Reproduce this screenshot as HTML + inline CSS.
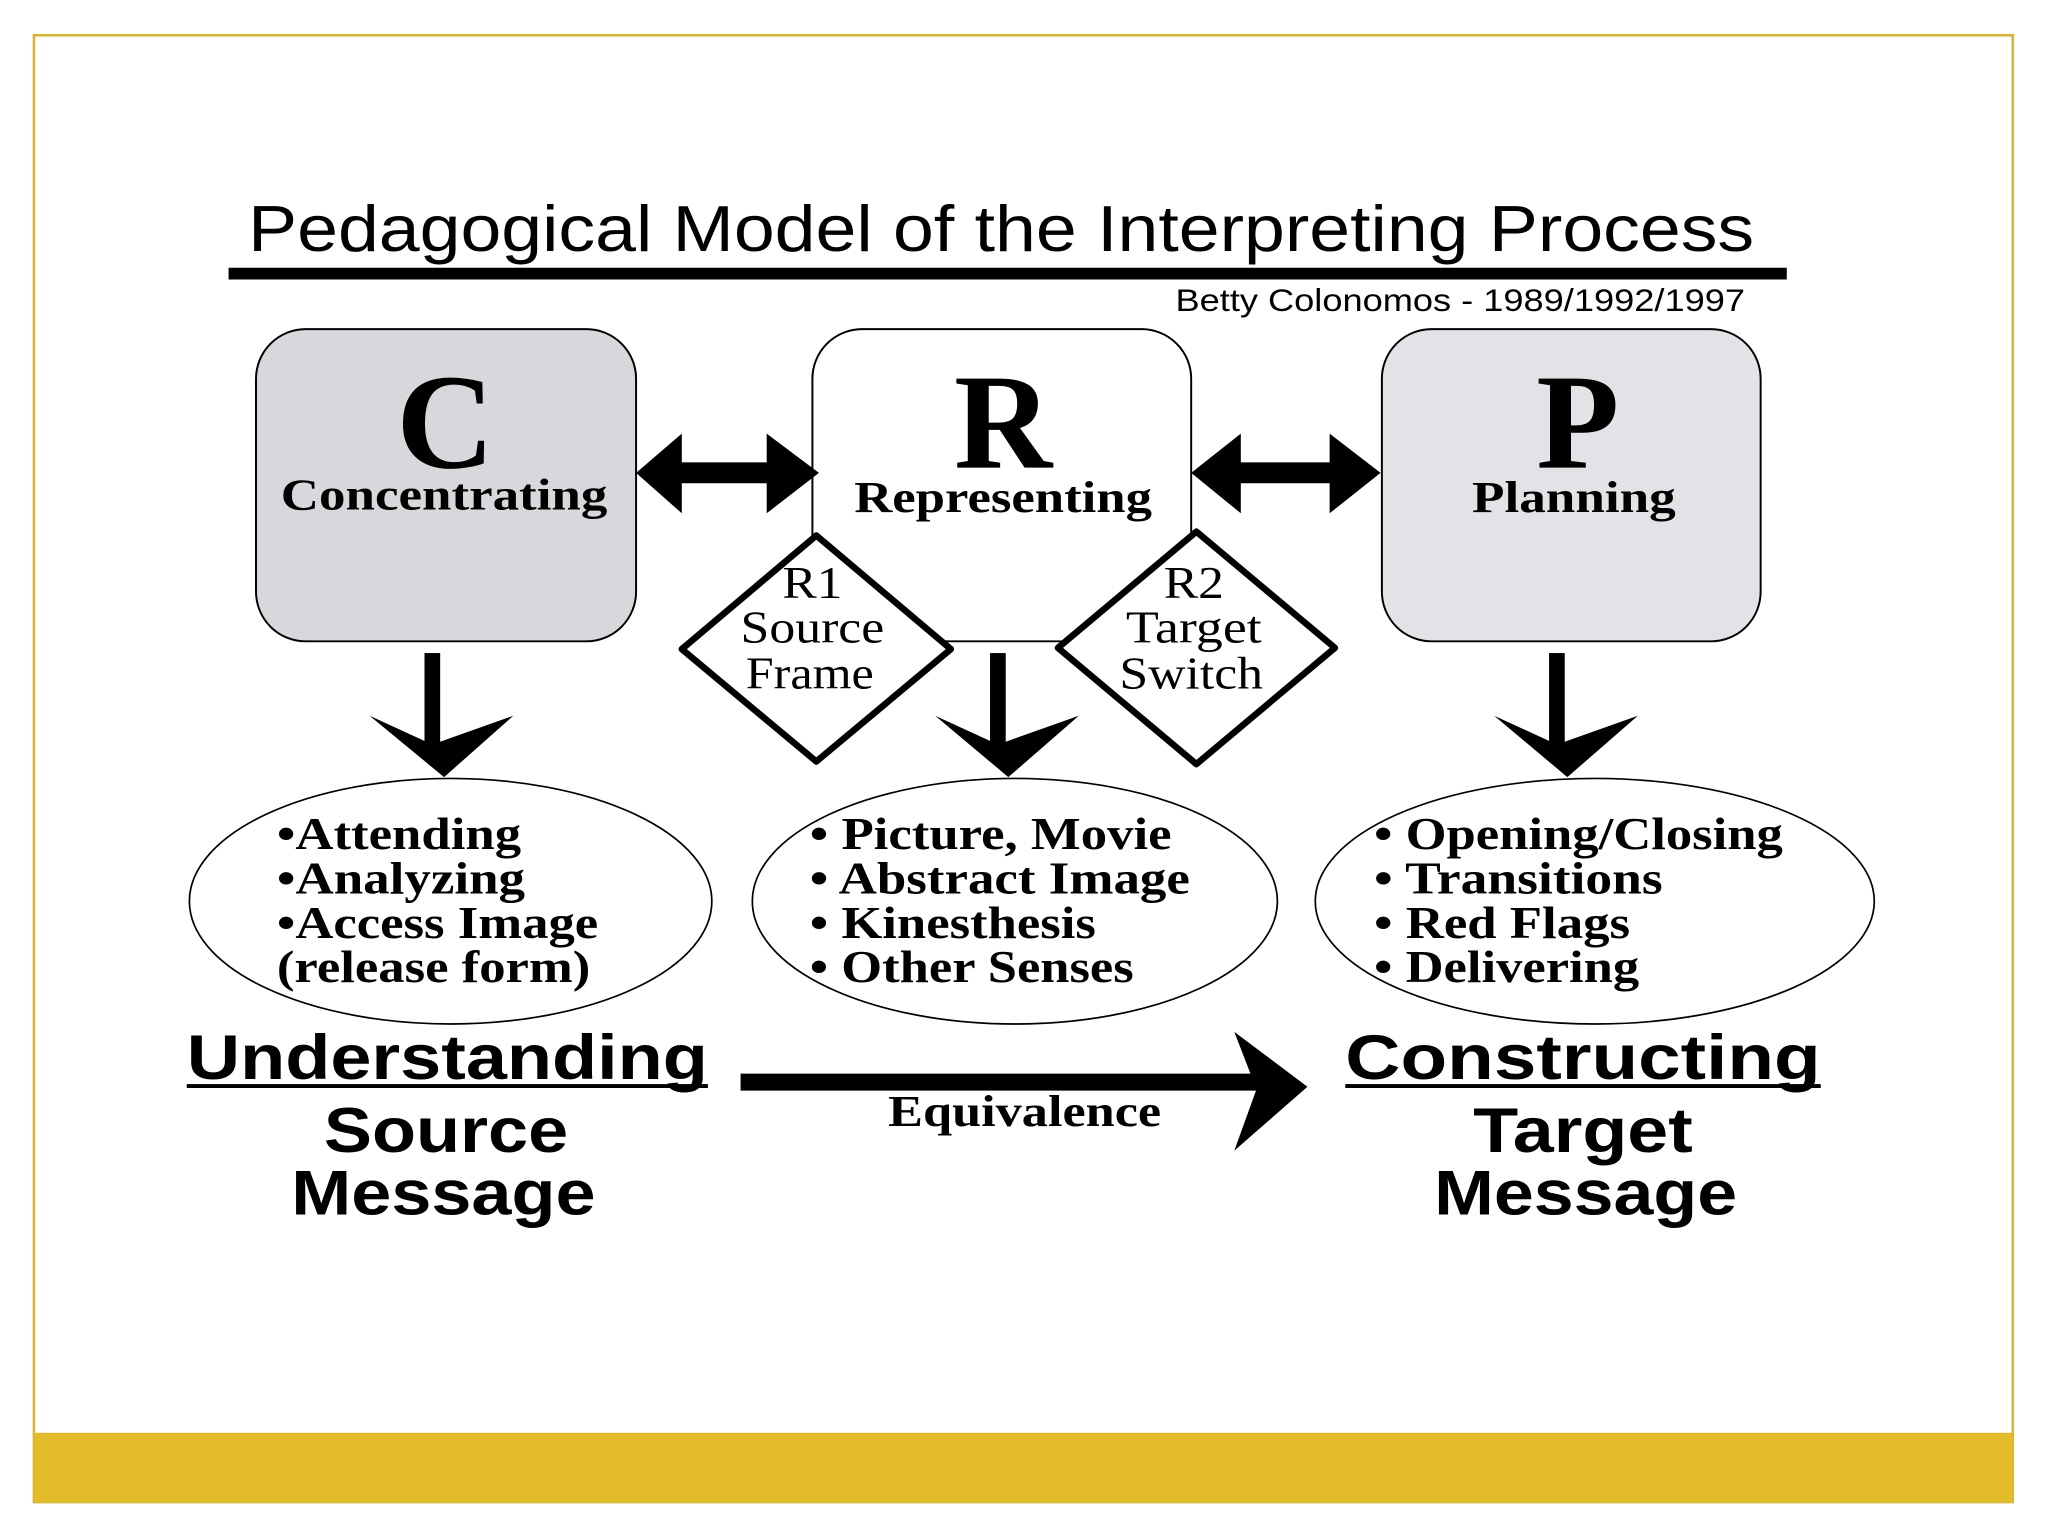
<!DOCTYPE html>
<html><head><meta charset="utf-8"><style>
html,body{margin:0;padding:0;background:#fff;}
svg{display:block;}
.serif{font-family:"Liberation Serif",serif;}
.sans{font-family:"Liberation Sans",sans-serif;}
</style></head><body>
<svg width="2048" height="1536" viewBox="0 0 1568 1176" preserveAspectRatio="none" xmlns="http://www.w3.org/2000/svg">
<rect x="0" y="0" width="1568" height="1176" fill="#fff"/>
<rect x="26" y="27" width="1515" height="1123" fill="none" stroke="#d6b53a" stroke-width="2"/>
<rect x="26" y="1097" width="1515" height="53" fill="#e2bc2a"/>

<text x="190" y="192" class="sans" font-size="50" textLength="1153" lengthAdjust="spacingAndGlyphs">Pedagogical  Model of the Interpreting Process</text>
<rect x="175" y="205" width="1193" height="9" fill="#000"/>
<text x="900" y="238" class="sans" font-size="24" textLength="436" lengthAdjust="spacingAndGlyphs">Betty Colonomos - 1989/1992/1997</text>

<rect x="196" y="252" width="291" height="239" rx="38" fill="#d8d7dc" stroke="#000" stroke-width="1.5"/>
<rect x="622" y="252" width="290" height="239" rx="38" fill="#fff" stroke="#000" stroke-width="1.5"/>
<rect x="1058" y="252" width="290" height="239" rx="38" fill="#e3e2e6" stroke="#000" stroke-width="1.5"/>

<text x="341" y="358" class="serif" font-size="104" font-weight="bold" text-anchor="middle">C</text>
<text x="340" y="390" class="serif" font-size="34" font-weight="bold" text-anchor="middle" textLength="250" lengthAdjust="spacingAndGlyphs">Concentrating</text>
<text x="768" y="358" class="serif" font-size="104" font-weight="bold" text-anchor="middle">R</text>
<text x="768" y="392" class="serif" font-size="34" font-weight="bold" text-anchor="middle" textLength="228" lengthAdjust="spacingAndGlyphs">Representing</text>
<text x="1208" y="358" class="serif" font-size="104" font-weight="bold" text-anchor="middle">P</text>
<text x="1205" y="392" class="serif" font-size="34" font-weight="bold" text-anchor="middle" textLength="156" lengthAdjust="spacingAndGlyphs">Planning</text>

<polygon points="487,362 522,332 522,354 587,354 587,332 627,362 587,393 587,370 522,370 522,393" fill="#000"/>
<polygon points="912,362 950,332 950,354 1018,354 1018,332 1057,362 1018,393 1018,370 950,370 950,393" fill="#000"/>

<polygon points="625,410 728,497 625,583 522,497" fill="#fff" stroke="#000" stroke-width="5" stroke-linejoin="round"/>
<polygon points="916,407 1022,496 916,585 810,496" fill="#fff" stroke="#000" stroke-width="5" stroke-linejoin="round"/>
<g class="serif" font-size="35" text-anchor="middle">
<text x="622" y="458" textLength="46" lengthAdjust="spacingAndGlyphs">R1</text><text x="622" y="492" textLength="110" lengthAdjust="spacingAndGlyphs">Source</text><text x="620" y="527" textLength="98" lengthAdjust="spacingAndGlyphs">Frame</text>
<text x="914" y="458" textLength="46" lengthAdjust="spacingAndGlyphs">R2</text><text x="914" y="492" textLength="104" lengthAdjust="spacingAndGlyphs">Target</text><text x="912" y="527" textLength="110" lengthAdjust="spacingAndGlyphs">Switch</text>
</g>

<g fill="#000">
<rect x="325" y="500" width="12" height="70"/><polygon points="283,548 331,570 393,548 340,595"/>
<rect x="758" y="500" width="12" height="70"/><polygon points="716,548 764,570 826,548 772,595"/>
<rect x="1186" y="500" width="12" height="70"/><polygon points="1144,548 1192,570 1254,548 1200,595"/>
</g>

<ellipse cx="345" cy="690" rx="200" ry="94" fill="#fff" stroke="#000" stroke-width="1.3"/>
<ellipse cx="777" cy="690" rx="201" ry="94" fill="#fff" stroke="#000" stroke-width="1.3"/>
<ellipse cx="1221" cy="690" rx="214" ry="94" fill="#fff" stroke="#000" stroke-width="1.3"/>
<g class="serif" font-size="35" font-weight="bold">
<text x="212" y="650" textLength="187" lengthAdjust="spacingAndGlyphs">•Attending</text>
<text x="212" y="684" textLength="190" lengthAdjust="spacingAndGlyphs">•Analyzing</text>
<text x="212" y="718" textLength="246" lengthAdjust="spacingAndGlyphs">•Access Image</text>
<text x="212" y="752" textLength="240" lengthAdjust="spacingAndGlyphs">(release form)</text>
<text x="620" y="650" textLength="277" lengthAdjust="spacingAndGlyphs">• Picture, Movie</text>
<text x="620" y="684" textLength="291" lengthAdjust="spacingAndGlyphs">• Abstract Image</text>
<text x="620" y="718" textLength="219" lengthAdjust="spacingAndGlyphs">• Kinesthesis</text>
<text x="620" y="752" textLength="248" lengthAdjust="spacingAndGlyphs">• Other Senses</text>
<text x="1052" y="650" textLength="313" lengthAdjust="spacingAndGlyphs">• Opening/Closing</text>
<text x="1052" y="684" textLength="221" lengthAdjust="spacingAndGlyphs">• Transitions</text>
<text x="1052" y="718" textLength="196" lengthAdjust="spacingAndGlyphs">• Red Flags</text>
<text x="1052" y="752" textLength="203" lengthAdjust="spacingAndGlyphs">• Delivering</text>
</g>

<g class="sans" font-weight="bold" font-size="48">
<text x="143" y="826" textLength="399" lengthAdjust="spacingAndGlyphs">Understanding</text>
<text x="1030" y="826" textLength="364" lengthAdjust="spacingAndGlyphs">Constructing</text>
<text x="248" y="882" textLength="187" lengthAdjust="spacingAndGlyphs">Source</text>
<text x="223" y="930" textLength="233" lengthAdjust="spacingAndGlyphs">Message</text>
<text x="1128" y="882" textLength="168" lengthAdjust="spacingAndGlyphs">Target</text>
<text x="1098" y="930" textLength="232" lengthAdjust="spacingAndGlyphs">Message</text>
</g>
<rect x="143" y="830" width="399" height="3" fill="#000"/>
<rect x="1030" y="830" width="364" height="3" fill="#000"/>
<rect x="567" y="822" width="400" height="13" fill="#000"/>
<polygon points="945,790 1001,832 945,881 962,834" fill="#000"/>
<text x="680" y="862" class="serif" font-size="34" font-weight="bold" textLength="209" lengthAdjust="spacingAndGlyphs">Equivalence</text>
</svg>
</body></html>
